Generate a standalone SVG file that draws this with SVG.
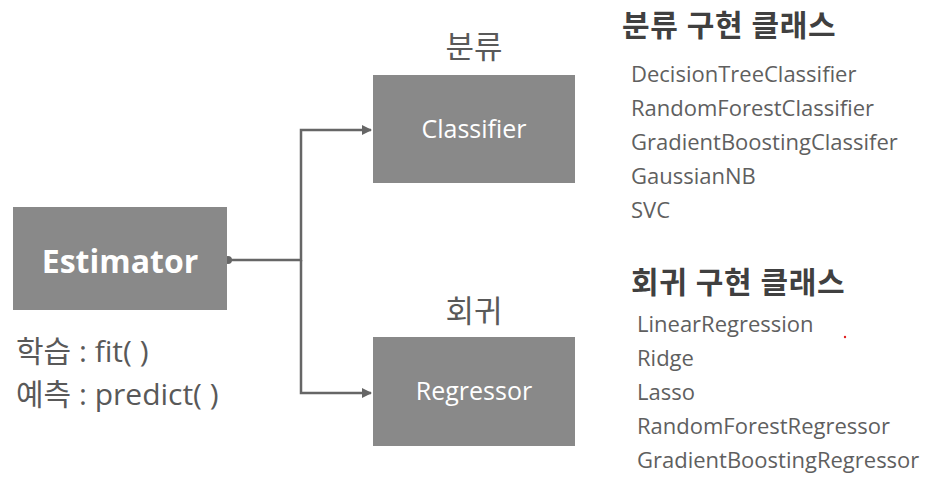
<svg xmlns="http://www.w3.org/2000/svg" width="932" height="486" viewBox="0 0 932 486">
<style>
.box{fill:#898989;}
.t{font-family:"Open Sans","Noto Sans CJK KR",sans-serif;}
.btxt{fill:#ffffff;text-anchor:middle;}
.lbl{fill:#595959;}
.item{fill:#5f5f5f;font-size:22px;}
.hdr{fill:#404040;font-size:30px;font-weight:bold;letter-spacing:0.6px;}
.conn{stroke:#666666;stroke-width:2.5;fill:none;}
</style>
<defs>
<marker id="arr" viewBox="0 0 10 10" refX="9" refY="5" markerWidth="4" markerHeight="4" orient="auto" markerUnits="strokeWidth">
<path d="M0,0 L10,5 L0,10 z" fill="#666666"/>
</marker>
</defs>
<rect width="932" height="486" fill="#ffffff"/>
<g id="connectors">
<path class="conn" d="M228,260 H301 V130 H371" marker-end="url(#arr)"/>
<path class="conn" d="M301,260 V393 H371" marker-end="url(#arr)"/>
<circle cx="228" cy="260" r="4" fill="#666666"/>
</g>
<g id="estimator">
<rect class="box" x="13" y="207" width="214" height="103"/>
<text class="t btxt" x="120" y="273" font-size="32" font-weight="bold">Estimator</text>
<text class="t lbl" x="16" y="362" font-size="30">학습 : fit( )</text>
<text class="t lbl" x="16" y="405" font-size="30">예측 : predict( )</text>
</g>
<g id="classifier">
<text class="t lbl" x="474" y="58" font-size="31" text-anchor="middle">분류</text>
<rect class="box" x="373" y="75" width="202" height="108"/>
<text class="t btxt" x="474" y="138" font-size="25">Classifier</text>
</g>
<g id="regressor">
<text class="t lbl" x="474" y="322" font-size="31" text-anchor="middle">회귀</text>
<rect class="box" x="373" y="337" width="202" height="109"/>
<text class="t btxt" x="474" y="400" font-size="25">Regressor</text>
</g>
<g id="classifier-list">
<text class="t hdr" x="622" y="36">분류 구현 클래스</text>
<text class="t item" x="631" y="82">DecisionTreeClassifier</text>
<text class="t item" x="631" y="116">RandomForestClassifier</text>
<text class="t item" x="631" y="150">GradientBoostingClassifer</text>
<text class="t item" x="631" y="184">GaussianNB</text>
<text class="t item" x="631" y="218">SVC</text>
</g>
<g id="regressor-list">
<text class="t hdr" x="631" y="293">회귀 구현 클래스</text>
<text class="t item" x="637" y="332">LinearRegression</text>
<text class="t item" x="637" y="366">Ridge</text>
<text class="t item" x="637" y="400">Lasso</text>
<text class="t item" x="637" y="434">RandomForestRegressor</text>
<text class="t item" x="637" y="468">GradientBoostingRegressor</text>
</g>
<circle cx="845" cy="337" r="1.2" fill="#e02020"/>
</svg>
